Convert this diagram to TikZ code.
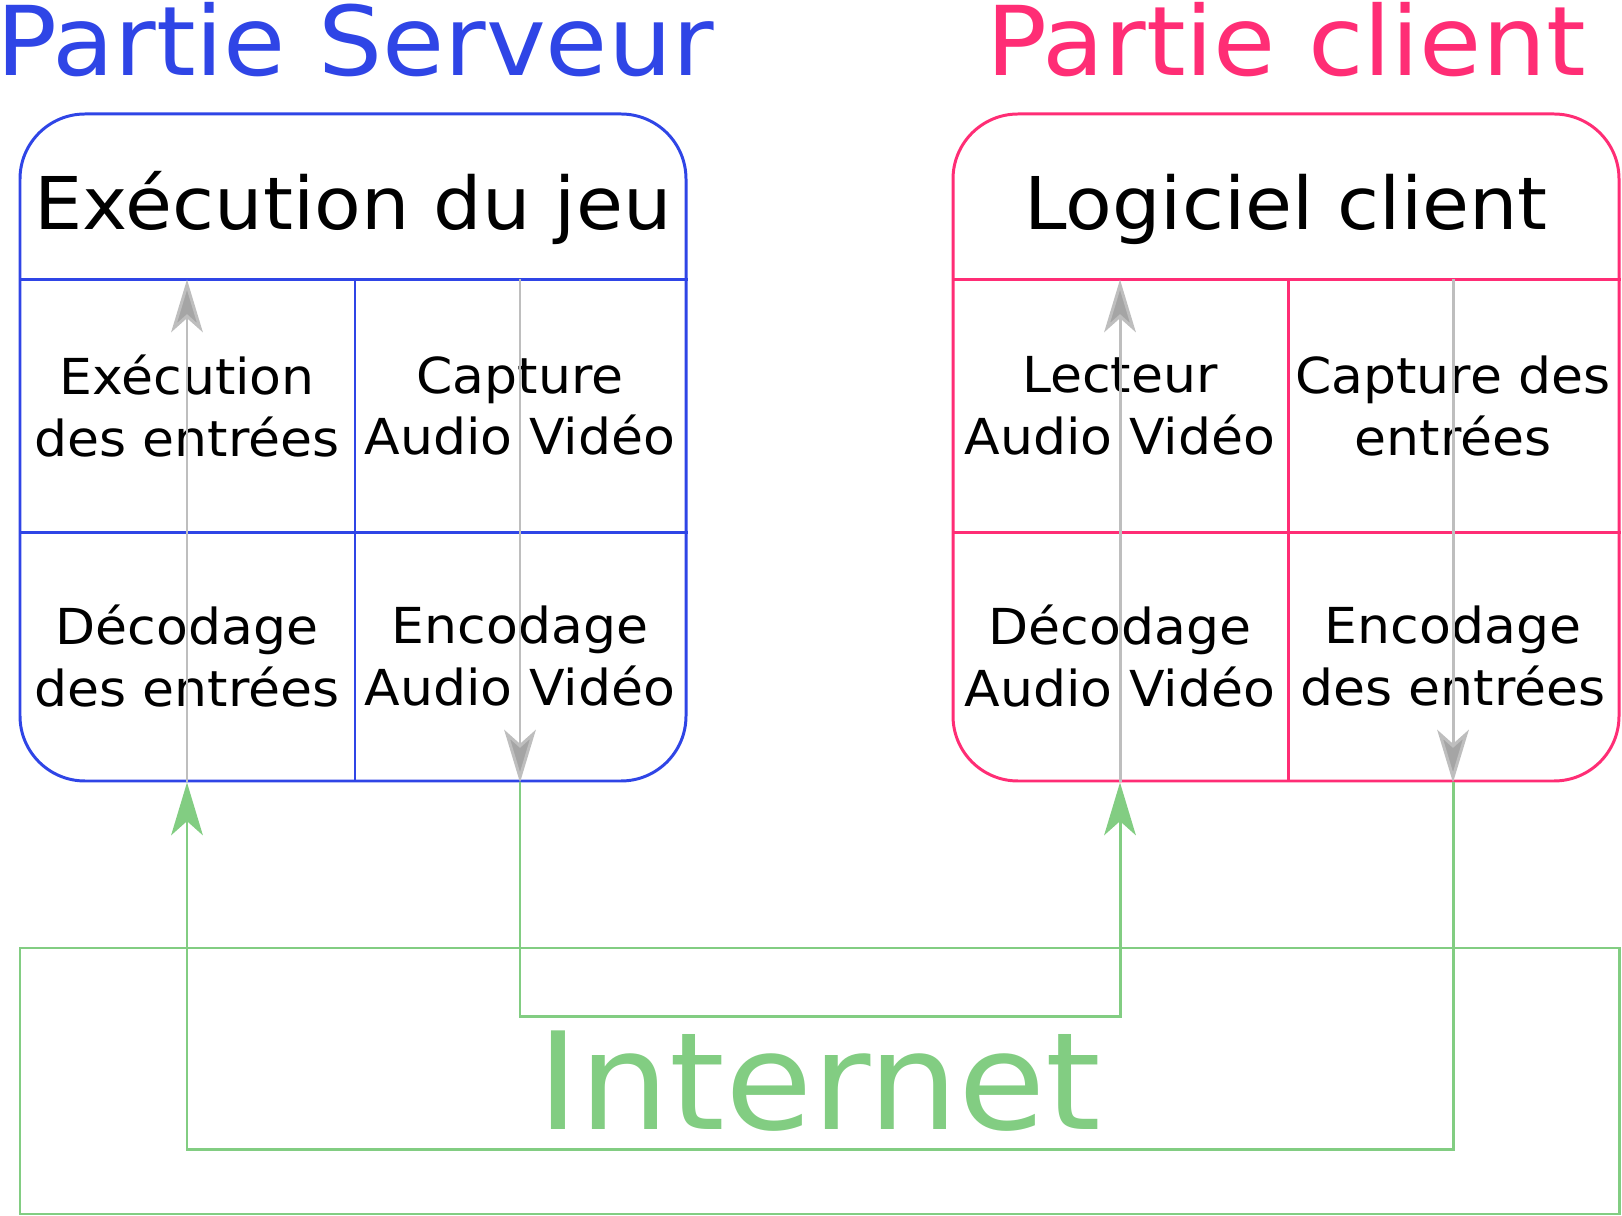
\documentclass[tikz,border=0pt]{standalone}
\usepackage{fontspec}
\setmainfont{DejaVu Sans}[FakeStretch=1.05]
\usepackage{tikz}
\usetikzlibrary{positioning,arrows.meta}
\definecolor{srvblue}{RGB}{47,69,230}
\definecolor{clipink}{RGB}{255,45,117}
\definecolor{netgreen}{RGB}{130,205,130}
\definecolor{feedgray}{RGB}{190,190,190}
\definecolor{tipgray}{RGB}{165,165,165}

\begin{document}
\begin{tikzpicture}
  [line width=0.85pt,
   cell/.style={inner sep=0pt, minimum width=3.33cm, minimum height=2.5cm, align=center, font=\fontsize{14.1}{17.6}\selectfont},
   part/.style={anchor=base, inner sep=0pt, font=\fontsize{27.4}{30}\selectfont},
   soft/.style={anchor=base, font=\fontsize{20.7}{24}\selectfont},
   feed/.style={draw=feedgray, -{Stealth[length=15pt, width=9pt, inset=4pt, fill=tipgray]}},
   net/.style={draw=netgreen, -{Stealth[length=15pt, width=9pt, inset=4pt]}}]
  \useasboundingbox (0,0) rectangle (16.22,-12.16);

  % internet
  \node[draw=netgreen, text=netgreen, minimum width=15.99cm, minimum height=2.66cm, inner sep=0pt,
        font=\fontsize{38.5}{40}\selectfont] (inet) at (8.195,-10.81) {Internet};

  % server
  \node[part, text=srvblue] (srv) at (3.55,-0.76) {Partie Serveur};
  \draw[srvblue, rounded corners=0.65cm] (0.20,-1.14) rectangle (6.86,-7.81);
  \node[soft] (game) at (3.53,-2.30) {Exécution du jeu};
  \node[cell] (sA) at (1.87,-4.06) {Exécution\\des entrées};
  \node[cell] (sB) at (5.20,-4.06) {Capture\\Audio Vidéo};
  \node[cell] (sC) at (1.87,-6.56) {Décodage\\des entrées};
  \node[cell] (sD) at (5.20,-6.56) {Encodage\\Audio Vidéo};
  \draw[srvblue] (sA.north west) -- (sB.north east);
  \draw[srvblue] (sA.south west) -- (sB.south east);
  \draw[srvblue] (sA.north east) -- (sC.south east);

  % client
  \node[part, text=clipink] (cli) at (12.86,-0.76) {Partie client};
  \draw[clipink, rounded corners=0.65cm] (9.53,-1.14) rectangle (16.19,-7.81);
  \node[soft] (soft) at (12.86,-2.30) {Logiciel client};
  \node[cell] (cA) at (11.20,-4.06) {Lecteur\\Audio Vidéo};
  \node[cell] (cB) at (14.53,-4.06) {Capture des\\entrées};
  \node[cell] (cC) at (11.20,-6.56) {Décodage\\Audio Vidéo};
  \node[cell] (cD) at (14.53,-6.56) {Encodage\\des entrées};
  \draw[clipink] (cA.north west) -- (cB.north east);
  \draw[clipink] (cA.south west) -- (cB.south east);
  \draw[clipink] (cA.north east) -- (cC.south east);

  \foreach \from/\to in {sC.south/sA.north, sB.north/sD.south, cC.south/cA.north, cB.north/cD.south}
    \draw[feed] (\from) -- (\to);

  \draw[net] (sD.south) -- ++(0,-2.34) -| (cC.south);
  \draw[net] (cD.south) -- ++(0,-3.67) -| (sC.south);
\end{tikzpicture}
\end{document}
